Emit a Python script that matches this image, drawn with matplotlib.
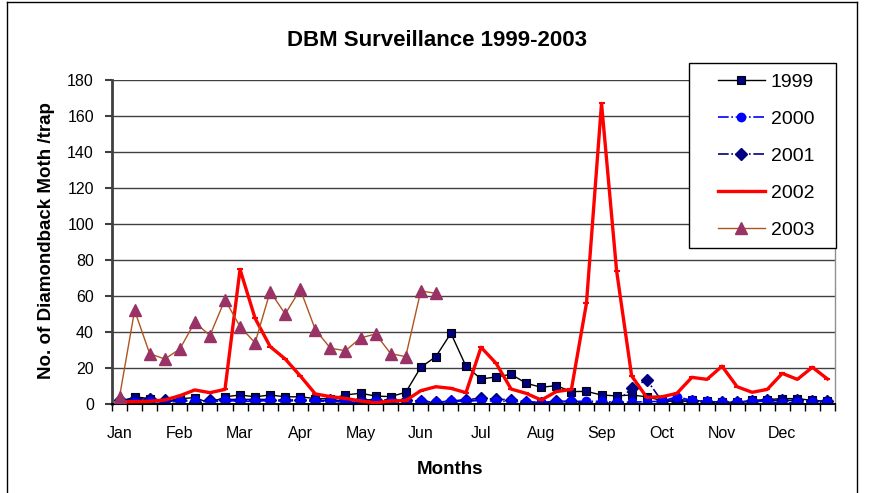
import numpy as np
import matplotlib
matplotlib.use("Agg")
import matplotlib.pyplot as plt
from matplotlib.lines import Line2D
from matplotlib.patches import Rectangle

plt.rcParams['font.family'] = ['Liberation Sans Narrow', 'Liberation Sans', 'DejaVu Sans']

# weekly trap catches, 4 readings per month
months = ['Jan', 'Feb', 'Mar', 'Apr', 'May', 'Jun', 'Jul', 'Aug', 'Sep', 'Oct', 'Nov', 'Dec']
y1999 = [1, 4, 3, 0.5, 3, 3.5, 0.5, 4, 5, 4, 5, 4, 4, 3, 3, 5, 6, 4.4, 4.1, 6.5,
         20.4, 26.3, 39.3, 21, 13.9, 15, 16.5, 11.5, 9.3, 10.2, 6.9, 7, 5, 4.5, 5, 4,
         1.9, 2.5, 2, 1.5, 1, 1, 2, 2.5, 3, 3, 2, 1.5]
y2000 = [1.5, 1, 1.5, 1, 1.5, 2, 1, 2, 1.5, 1.5, 2, 1.5, 2, 1.5, 1.5, 1, 1, 1.5, 1, 1,
         1.5, 1, 1.5, 1.5, 2, 1.5, 1.5, 1, 1, 1, 1.5, 1.5, 1.5, 1, 1, 1.3, 1.5, 4,
         2, 1.5, 1, 1, 1.5, 1.5, 0.3, 1, 1, 1]
y2001 = [2, 3, 2.6, 2.2, 2.5, 1.3, 2, 2.5, 2.5, 2.5, 2.5, 2, 2.5, 2, 2, 2, 2, 2.5, 2, 2,
         1.5, 1, 1.5, 2.5, 3.1, 2.6, 2.5, 1.3, 0.7, 1.5, 1.5, 0.5, 0.5, 1, 8.7, 13.5,
         1.7, 1.5, 1.5, 1, 1, 1, 1.5, 2, 2, 2, 1.5, 1.5]
y2002 = [1.3, 1.3, 1.5, 2.2, 4.6, 7.8, 6.3, 8.1, 74.8, 47.6, 31.9, 25, 15.6, 5.6, 4.1,
         3.1, 1.7, 0.7, 1.7, 1.9, 7.4, 9.6, 8.7, 6.3, 31.5, 22.6, 8.3, 5.9, 2.2, 6.9,
         8.1, 56, 167, 74, 15.6, 3.7, 4, 5.9, 14.8, 13.7, 21, 9.6, 6.5, 8.1, 17, 13.7,
         20.4, 13.9]
y2003 = [4, 52, 28, 25, 30.5, 45.5, 38, 58, 43, 34, 62.5, 50, 63.7, 41.3, 31, 29.6,
         36.7, 38.9, 28, 26.3, 62.8, 61.5]

W, H = 886, 493
fig = plt.figure(figsize=(W / 100, H / 100), dpi=100)
ax = fig.add_axes([112 / W, 1 - 404 / H, (835 - 112) / W, (404 - 80) / H])

weeks = np.arange(len(y2002))
ax.plot(weeks, y1999, color='black', lw=1, marker='s', ms=5.5,
        mfc='#000080', mec='black', mew=0.8, label='1999', zorder=2)
ax.plot(weeks, y2000, color='#0000ff', lw=1.2, ls='-.', marker='o', ms=6,
        mfc='#0000ff', mec='#0000ff', label='2000', zorder=2.4)
ax.plot(weeks, y2001, color='#000080', lw=1.2, ls='-.', marker='D', ms=6.5,
        mfc='#000080', mec='#000080', label='2001', zorder=2.2)
ax.plot(weeks, y2002, color='#ff0000', lw=2.4, marker='_', ms=5, mew=1.5,
        mfc='#ff0000', mec='#ff0000', label='2002', zorder=2.6)
ax.plot(np.arange(len(y2003)), y2003, color='#b0541e', lw=1, marker='^', ms=8.5,
        mfc='#993366', mec='#993366', label='2003', zorder=2.8)

ax.set_xlim(-0.5, len(weeks) - 0.5)
ax.set_ylim(0, 180)
ax.set_yticks(np.arange(0, 181, 20))
ax.yaxis.grid(True, color='#404040', lw=1)
ax.set_axisbelow(True)
ax.tick_params(axis='y', labelsize=11.5, length=5, width=1.5, color='#404040', pad=8)

ax.set_xticks(np.arange(-0.5, len(weeks), 1))
ax.set_xticklabels([])
ax.set_xticks(np.arange(0, len(weeks), 4), minor=True)
ax.set_xticklabels(months, minor=True)
ax.tick_params(axis='x', which='major', length=5, width=1, color='black')
ax.tick_params(axis='x', which='minor', length=0, labelsize=11.5, pad=16)

ax.spines['top'].set_visible(False)
ax.spines['right'].set_color('#909090')
ax.spines['right'].set_linewidth(1)
ax.spines['left'].set_color('#404040')
ax.spines['left'].set_linewidth(2)
ax.spines['bottom'].set_color('black')
ax.spines['bottom'].set_linewidth(1.5)

fig.text(437 / W, 1 - 40 / H, 'DBM Surveillance 1999-2003', ha='center', va='center',
         fontsize=16, fontweight='bold')
fig.text(47 / W, 1 - 241 / H, 'No. of Diamondback Moth /trap', ha='center', va='center',
         rotation=90, fontsize=13.5, fontweight='bold')
fig.text(450 / W, 1 - 469 / H, 'Months', ha='center', va='center',
         fontsize=13.5, fontweight='bold')

# legend box, drawn in the axes so the legend can sit above it
ax.add_patch(Rectangle((689 / W, 1 - 248 / H), (836 - 689) / W, (248 - 63) / H,
                       transform=fig.transFigure, facecolor='white',
                       edgecolor='black', lw=1, zorder=5, clip_on=False))
leg = ax.legend(loc='center', bbox_to_anchor=(766 / W, 1 - 156 / H),
                bbox_transform=fig.transFigure, frameon=False, numpoints=1,
                fontsize=14, handlelength=2.4, handletextpad=0.3,
                labelspacing=0.99, borderpad=0)
leg.set_zorder(6)

# outer chart frame
fig.add_artist(Line2D([7 / W, 7 / W], [0, 1 - 2 / H], transform=fig.transFigure,
                      color='black', lw=1))
fig.add_artist(Line2D([7 / W, 857 / W], [1 - 2 / H, 1 - 2 / H], transform=fig.transFigure,
                      color='black', lw=1))
fig.add_artist(Line2D([857 / W, 857 / W], [0, 1 - 2 / H], transform=fig.transFigure,
                      color='black', lw=1))

fig.savefig('out.png', dpi=100)
